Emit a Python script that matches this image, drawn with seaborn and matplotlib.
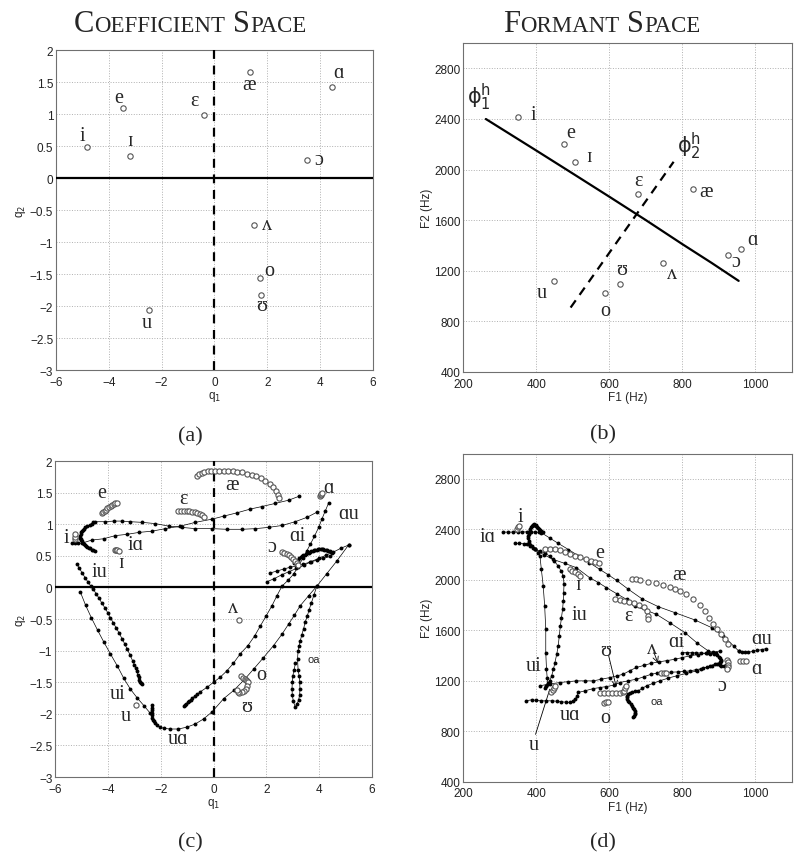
import matplotlib
matplotlib.use("Agg")
import matplotlib.pyplot as plt
import matplotlib.ticker as mticker
import seaborn as sns

# --- vowel data -------------------------------------------------------------
VOWELS = ['i', 'e', 'ɪ', 'ɛ', 'æ', 'ɑ', 'ɔ', 'ʌ', 'o', 'ʊ', 'u']

# (a) coefficient space, monophthongs
A_Q1 = [-4.82, -3.48, -3.20, -0.40, 1.36, 4.46, 3.50, 1.49, 1.74, 1.78, -2.47]
A_Q2 = [0.48, 1.10, 0.34, 0.99, 1.65, 1.43, 0.28, -0.74, -1.57, -1.83, -2.07]
A_LAB_Q1 = [-4.99, -3.64, -3.20, -0.74, 1.31, 4.70, 3.95, 1.99, 2.09, 1.80, -2.57]
A_LAB_Q2 = [0.67, 1.26, 0.59, 1.21, 1.46, 1.65, 0.29, -0.73, -1.45, -1.99, -2.26]

# (b) formant space, monophthongs
B_F1 = [350, 477, 507, 679, 829, 960, 924, 748, 589, 630, 449]
B_F2 = [2412, 2201, 2056, 1806, 1848, 1368, 1326, 1265, 1022, 1099, 1117]
B_LAB_F1 = [391, 494, 544, 681, 865, 991, 946, 772, 590, 635, 414]
B_LAB_F2 = [2431, 2293, 2101, 1916, 1824, 1447, 1270, 1175, 888, 1212, 1028]
PHI1_F1 = [262, 400, 500, 600, 700, 800, 880, 954]
PHI1_F2 = [2399, 2150, 1968, 1785, 1600, 1410, 1262, 1120]
PHI2_F1 = [494, 776]
PHI2_F2 = [909, 2061]

# (c) coefficient space, diphthong trajectories (dots)
C_IA_Q1 = [-5.37, -5.25, -5.12, -4.99, -4.61, -4.17, -3.72, -3.28, -2.84, -2.34, -1.83,
           -1.26, -0.69, -0.06, 0.40, 0.88, 1.39, 1.83, 2.34, 2.84, 3.22]
C_IA_Q2 = [0.70, 0.70, 0.70, 0.70, 0.75, 0.77, 0.82, 0.84, 0.87, 0.89, 0.93,
           0.97, 1.03, 1.08, 1.13, 1.18, 1.24, 1.28, 1.33, 1.38, 1.44]
C_AI_Q1 = [3.91, 3.54, 3.09, 2.59, 2.08, 1.58, 1.07, 0.51, -0.06, -0.69, -1.20, -1.70,
           -2.21, -2.71, -3.16, -3.47, -3.79, -4.10, -4.48, -4.55, -4.62, -4.70, -4.80,
           -4.86, -4.92, -4.96, -4.99, -5.02, -5.04, -5.05, -5.05, -5.04, -5.02, -4.99,
           -4.96, -4.92, -4.88, -4.83, -4.78, -4.73, -4.68, -4.62, -4.55, -4.48]
C_AI_Q2 = [1.19, 1.11, 1.04, 0.98, 0.95, 0.93, 0.92, 0.92, 0.93, 0.93, 0.95, 0.97,
           1.01, 1.03, 1.04, 1.05, 1.05, 1.04, 1.04, 1.03, 1.01, 0.99, 0.97,
           0.95, 0.93, 0.91, 0.89, 0.87, 0.84, 0.81, 0.79, 0.77, 0.75, 0.73,
           0.71, 0.69, 0.67, 0.65, 0.64, 0.63, 0.62, 0.60, 0.59, 0.58]
C_IU_Q1 = [-5.18, -5.08, -4.98, -4.86, -4.75, -4.65, -4.55, -4.45, -4.34, -4.23, -4.12,
           -4.01, -3.91, -3.80, -3.69, -3.58, -3.47, -3.37, -3.27, -3.16, -3.07, -3.00,
           -2.95, -2.91, -2.87, -2.84, -2.81, -2.78, -2.75, -2.72]
C_IU_Q2 = [0.37, 0.30, 0.23, 0.15, 0.08, 0.02, -0.03, -0.10, -0.17, -0.25, -0.32,
           -0.40, -0.48, -0.56, -0.64, -0.72, -0.81, -0.89, -0.98, -1.07, -1.16, -1.22,
           -1.28, -1.33, -1.38, -1.42, -1.46, -1.49, -1.51, -1.52]
C_UI_Q1 = [-5.05, -4.85, -4.63, -4.39, -4.15, -3.91, -3.65, -3.40, -3.15, -2.89, -2.64, -2.42]
C_UI_Q2 = [-0.07, -0.28, -0.48, -0.68, -0.87, -1.05, -1.24, -1.44, -1.61, -1.75, -1.87, -1.98]
C_AU_Q1 = [4.36, 4.23, 4.10, 3.98, 3.82, 3.66, 3.52, 3.38, 3.20, 3.03, 2.81, 2.59, 2.40,
           2.21, 1.99, 1.77, 1.55, 1.30, 1.01, 0.75, 0.50, 0.25, 0.00, -0.25, -0.50,
           -0.62, -0.72, -0.80, -0.87, -0.93, -0.98, -1.03, -1.07, -1.11]
C_AU_Q2 = [1.34, 1.21, 1.08, 0.95, 0.81, 0.68, 0.57, 0.46, 0.33, 0.21, 0.11, 0.02, -0.13,
           -0.29, -0.45, -0.61, -0.77, -0.92, -1.05, -1.20, -1.32, -1.42, -1.50, -1.58, -1.65,
           -1.69, -1.72, -1.75, -1.78, -1.80, -1.82, -1.84, -1.86, -1.88]
C_UA_Q1 = [-2.34, -2.34, -2.34, -2.34, -2.33, -2.32, -2.30, -2.27, -2.23, -2.15, -2.02,
           -1.89, -1.64, -1.33, -1.01, -0.69, -0.38, -0.06, 0.38, 0.76, 1.14, 1.52, 1.89,
           2.27, 2.59, 2.84, 3.06, 3.28, 3.60, 3.91, 4.29, 4.67, 5.11]
C_UA_Q2 = [-1.86, -1.90, -1.94, -1.98, -2.02, -2.06, -2.09, -2.12, -2.15, -2.18, -2.21,
           -2.23, -2.24, -2.24, -2.21, -2.16, -2.08, -1.97, -1.76, -1.63, -1.47, -1.29, -1.11,
           -0.92, -0.74, -0.58, -0.44, -0.29, -0.13, 0.02, 0.22, 0.42, 0.67]
C_OA_Q1 = [3.10, 3.05, 3.00, 2.98, 2.97, 2.98, 3.02, 3.09, 3.16, 3.22, 3.26, 3.27, 3.26,
           3.24, 3.20, 3.18, 3.20, 3.24, 3.28, 3.34, 3.41, 3.47, 3.55, 3.62, 3.70, 3.80, 3.91]
C_OA_Q2 = [-1.20, -1.30, -1.40, -1.50, -1.60, -1.70, -1.80, -1.89, -1.85, -1.78, -1.70, -1.60, -1.50,
           -1.40, -1.30, -1.13, -1.00, -0.92, -0.85, -0.75, -0.65, -0.55, -0.45, -0.35, -0.25, -0.12, 0.02]
C_PA_Q1 = [2.15, 2.40, 2.65, 2.90, 3.15, 3.40, 3.65, 3.90, 4.15, 4.42]
C_PA_Q2 = [0.23, 0.26, 0.29, 0.32, 0.34, 0.37, 0.40, 0.43, 0.46, 0.49]
C_PB_Q1 = [2.02, 2.30, 2.58, 2.86, 3.14, 3.42, 3.70, 3.98, 4.26, 4.54, 4.82, 5.11]
C_PB_Q2 = [0.09, 0.14, 0.20, 0.25, 0.30, 0.35, 0.41, 0.46, 0.51, 0.56, 0.62, 0.67]
C_ARC_Q1 = [3.05, 3.10, 3.15, 3.20, 3.25, 3.30, 3.35, 3.40, 3.45, 3.50, 3.55, 3.60, 3.65,
            3.70, 3.75, 3.80, 3.85, 3.90, 3.95, 4.00, 4.05, 4.10, 4.15, 4.20, 4.25, 4.30,
            4.35, 4.40, 4.45, 4.50]
C_ARC_Q2 = [0.38, 0.40, 0.42, 0.44, 0.46, 0.48, 0.49, 0.51, 0.52, 0.53, 0.54, 0.55, 0.56,
            0.57, 0.58, 0.59, 0.60, 0.60, 0.61, 0.61, 0.61, 0.61, 0.61, 0.60, 0.60, 0.59,
            0.58, 0.57, 0.56, 0.55]

# (c) monophthong trajectories (open circles)
C_MONO = {
    'æ': ([-0.63, -0.55, -0.45, -0.35, -0.22, -0.08, 0.06, 0.22, 0.38, 0.55, 0.72, 0.90,
           1.08, 1.26, 1.44, 1.62, 1.80, 1.96, 2.12, 2.25, 2.36, 2.44, 2.48],
          [1.76, 1.79, 1.81, 1.83, 1.84, 1.85, 1.85, 1.85, 1.85, 1.85, 1.84, 1.83,
           1.82, 1.80, 1.78, 1.76, 1.73, 1.69, 1.64, 1.59, 1.53, 1.47, 1.42]),
    'ɛ': ([-1.33, -1.22, -1.12, -1.02, -0.92, -0.82, -0.72, -0.62, -0.52, -0.43, -0.35],
          [1.21, 1.21, 1.21, 1.21, 1.21, 1.20, 1.19, 1.18, 1.16, 1.14, 1.12]),
    'e': ([-4.23, -4.18, -4.13, -4.08, -4.02, -3.96, -3.90, -3.84, -3.78, -3.72, -3.66],
          [1.17, 1.19, 1.21, 1.23, 1.25, 1.27, 1.29, 1.31, 1.32, 1.33, 1.34]),
    'i': ([-5.25, -5.24, -5.24], [0.76, 0.80, 0.84]),
    'ɪ': ([-3.75, -3.70, -3.65, -3.60], [0.59, 0.59, 0.59, 0.58]),
    'ɑ': ([4.02, 4.05, 4.08, 4.10], [1.44, 1.46, 1.48, 1.50]),
    'ɔ': ([2.59, 2.68, 2.77, 2.86, 2.94, 3.02, 3.09, 3.15, 3.19],
          [0.56, 0.55, 0.53, 0.51, 0.48, 0.45, 0.42, 0.39, 0.36]),
    'ʌ': ([0.98], [-0.52]),
    'o': ([1.05, 1.12, 1.18, 1.22, 1.26, 1.30], [-1.40, -1.43, -1.45, -1.47, -1.48, -1.50]),
    'ʊ': ([1.28, 1.22, 1.14, 1.06, 0.98, 0.92, 0.90], [-1.56, -1.61, -1.64, -1.66, -1.67, -1.66, -1.63]),
    'u': ([-2.93], [-1.86]),
}
C_LABELS = ['æ', 'ɑ', 'e', 'ɛ', 'ɑu', 'i', 'iɑ', 'ɑi', 'ɔ', 'ɪ', 'iu', 'ʌ',
            'o', 'ui', 'ʊ', 'u', 'uɑ']
C_LAB_Q1 = [0.69, 4.36, -4.23, -1.14, 5.11, -5.56, -2.97, 3.16, 2.21, -3.51, -4.32, 0.72,
            1.81, -3.64, 1.24, -3.31, -1.33]
C_LAB_Q2 = [1.63, 1.58, 1.51, 1.41, 1.17, 0.79, 0.68, 0.82, 0.65, 0.39, 0.25, -0.32,
            -1.37, -1.68, -1.89, -2.03, -2.39]

# (d) formant space, diphthong trajectories (dots)
D_TOP_F1 = [310, 323, 337, 350, 362, 374, 386, 397, 407, 414, 437, 460, 488, 515, 545, 574,
            597, 620, 652, 689, 734, 779, 834, 880, 912, 940, 954]
D_TOP_F2 = [2378, 2378, 2378, 2378, 2379, 2380, 2380, 2378, 2376, 2373, 2331, 2289, 2240,
            2191, 2137, 2082, 2040, 1995, 1925, 1850, 1787, 1740, 1682, 1621, 1555, 1476, 1436]
D_LOW_F1 = [341, 354, 366, 376, 384, 390, 396, 420, 446, 478, 510, 546, 570, 592, 620, 647,
            669, 700, 729, 765, 807, 839, 871, 891]
D_LOW_F2 = [2288, 2288, 2287, 2284, 2270, 2255, 2241, 2200, 2162, 2130, 2096, 2017, 1978,
            1938, 1890, 1845, 1792, 1760, 1726, 1661, 1581, 1502, 1436, 1420]
D_HOOK_F1 = [387, 384, 381, 379, 378, 378, 379, 380, 382, 384, 386, 388, 390, 392, 393, 395,
             398, 400, 403, 405, 408, 411, 414, 418]
D_HOOK_F2 = [2267, 2278, 2290, 2310, 2330, 2345, 2360, 2375, 2390, 2403, 2415, 2425, 2432,
             2437, 2440, 2438, 2432, 2425, 2417, 2408, 2400, 2393, 2386, 2380]
D_IU_F1 = [396, 410, 424, 437, 449, 460, 468, 474, 476, 475, 474, 472, 469, 466, 463, 460,
           456, 451, 447, 442, 437, 433, 428]
D_IU_F2 = [2241, 2228, 2210, 2188, 2150, 2109, 2070, 2030, 1965, 1898, 1832, 1766, 1700,
           1634, 1555, 1476, 1410, 1344, 1290, 1239, 1200, 1175, 1160]
D_UI_F1 = [396, 405, 410, 414, 419, 423, 426, 426, 428, 430, 431, 428, 424]
D_UI_F2 = [2241, 2215, 2188, 2082, 1951, 1792, 1608, 1423, 1291, 1220, 1186, 1160, 1140]
D_L1_F1 = [410, 437, 465, 488, 510, 533, 556, 578, 601, 620, 638, 656, 674, 695, 715, 737,
           758, 779, 800, 820, 843, 866, 885, 903]
D_L1_F2 = [1160, 1175, 1186, 1193, 1199, 1199, 1199, 1212, 1225, 1238, 1252, 1280, 1305,
           1322, 1339, 1350, 1360, 1370, 1384, 1397, 1408, 1418, 1427, 1436]
D_L2_F1 = [373, 387, 400, 414, 428, 442, 456, 469, 482, 492, 500, 506, 512, 515, 533, 556,
           574, 592, 612, 629, 652, 674, 695, 715, 731, 747, 768, 788, 804, 820, 836, 852,
           866, 880, 895]
D_L2_F2 = [1041, 1049, 1045, 1041, 1041, 1041, 1038, 1033, 1030, 1028, 1040, 1054, 1080,
           1107, 1120, 1138, 1146, 1154, 1165, 1186, 1200, 1212, 1232, 1252, 1260, 1265,
           1268, 1270, 1274, 1278, 1287, 1296, 1306, 1318, 1330]
D_OA_F1 = [665, 668, 670, 670, 669, 667, 665, 662, 659, 655, 651, 648, 647, 649, 652, 656,
           661, 670, 679, 690, 702, 720, 738, 760, 784, 811, 839, 857, 875, 889, 903]
D_OA_F2 = [909, 922, 935, 948, 962, 975, 988, 1001, 1015, 1028, 1041, 1055, 1068, 1080,
           1092, 1102, 1110, 1115, 1120, 1140, 1160, 1180, 1199, 1220, 1239, 1258, 1278,
           1298, 1318, 1331, 1344]
D_AI_F1 = [799, 812, 825, 838, 851, 864, 876, 886, 894, 900, 904, 906, 905, 902, 900, 902,
           907, 913, 919, 925]
D_AI_F2 = [1423, 1423, 1422, 1421, 1420, 1418, 1415, 1410, 1402, 1392, 1380, 1368, 1356,
           1345, 1335, 1326, 1320, 1318, 1322, 1330]
D_AU_F1 = [954, 962, 970, 980, 992, 1004, 1017, 1030]
D_AU_F2 = [1436, 1428, 1425, 1426, 1432, 1440, 1447, 1455]

# (d) monophthong trajectories (open circles)
D_MONO = {
    'i': ([348, 350, 352], [2405, 2418, 2430]),
    'e': ([423, 437, 451, 465, 479, 493, 507, 521, 535, 549, 562, 572],
          [2246, 2246, 2243, 2235, 2222, 2208, 2192, 2178, 2165, 2152, 2142, 2135]),
    'ɪ': ([492, 499, 506, 513, 519], [2082, 2072, 2060, 2046, 2030]),
    'ɛ': ([615, 628, 641, 654, 667, 680, 694, 702, 706, 706],
          [1850, 1842, 1833, 1825, 1815, 1803, 1787, 1753, 1713, 1687]),
    'æ': ([661, 672, 684, 706, 729, 747, 765, 779, 793, 811, 830, 848, 862, 874, 884, 895,
           905, 916, 925],
          [2009, 2003, 1996, 1982, 1972, 1958, 1943, 1924, 1911, 1885, 1845, 1798, 1753,
           1700, 1647, 1608, 1568, 1529, 1489]),
    'ɑ': ([957, 966, 975], [1357, 1357, 1357]),
    'ɔ': ([922, 925, 926, 925, 923], [1362, 1345, 1328, 1310, 1293]),
    'ʊ': ([574, 585, 596, 607, 618, 629, 637, 641, 644, 646],
          [1100, 1100, 1100, 1100, 1100, 1101, 1108, 1122, 1140, 1160]),
    'o': ([585, 590, 595], [1022, 1028, 1034]),
    'u': ([440, 445, 449, 452], [1110, 1125, 1140, 1155]),
    'ʌ': ([742, 749, 756], [1265, 1265, 1265]),
}
D_LABELS = ['i', 'iɑ', 'e', 'æ', 'ɪ', 'ɛ', 'iu', 'ɑu', 'ɑi', 'ʌ', 'ʊ', 'ui', 'ɑ', 'ɔ',
            'uɑ', 'o', 'u']
D_LAB_F1 = [357, 268, 574, 791, 515, 652, 519, 1016, 784, 717, 590, 392, 1003, 907,
            492, 590, 392]
D_LAB_F2 = [2499, 2341, 2214, 2043, 1964, 1719, 1727, 1534, 1508, 1455, 1436, 1318, 1297,
            1159, 935, 909, 698]

# --- style --------------------------------------------------------------------
sns.set_style("white")
plt.rcParams['font.family'] = ['Liberation Sans', 'DejaVu Sans']
SERIF = ['Liberation Serif', 'DejaVu Serif']
IPA_SIZE = 14.5
EDGE = '#555555'

fig = plt.figure(figsize=(8, 8.62), dpi=100)
ax_a = fig.add_axes([0.070, 0.5696, 0.396, 0.3712])
ax_b = fig.add_axes([0.579, 0.5673, 0.411, 0.3817])
ax_c = fig.add_axes([0.069, 0.0974, 0.396, 0.3666])
ax_d = fig.add_axes([0.579, 0.0920, 0.411, 0.3806])

fmt = mticker.FuncFormatter(lambda v, _: f"{v:g}".replace('-', '\u2212'))


def style_axes(ax, xlim, ylim, xticks, yticks, xlabel, ylabel):
    ax.set_xlim(xlim)
    ax.set_ylim(ylim)
    ax.set_xticks(xticks)
    ax.set_yticks(yticks)
    ax.xaxis.set_major_formatter(fmt)
    ax.yaxis.set_major_formatter(fmt)
    ax.grid(True, linestyle=':', color='#b0b0b0', lw=0.7)
    ax.tick_params(direction='in', length=3, width=0.6, labelsize=8.5, colors='#222222', pad=2)
    ax.tick_params(axis='x', pad=4)
    for s in ax.spines.values():
        s.set_color('#707070')
        s.set_linewidth(0.8)
    ax.set_xlabel(xlabel, fontsize=8.5, labelpad=1)
    ax.set_ylabel(ylabel, fontsize=8.5, labelpad=1)


def label(ax, xs, ys, texts, size=IPA_SIZE):
    for x, y, s in zip(xs, ys, texts):
        ax.text(x, y, s, ha='center', va='center', fontsize=size, family=SERIF, zorder=6)


def circles(ax, xs, ys, s=14):
    sns.scatterplot(x=xs, y=ys, ax=ax, s=s, color='white', edgecolor=EDGE,
                    linewidth=0.8, zorder=5, legend=False)


def track(ax, xs, ys):
    sns.lineplot(x=xs, y=ys, ax=ax, sort=False, estimator=None, color='black', lw=0.5,
                 marker='o', markersize=2.8, markeredgewidth=0, zorder=4, legend=False)


q_xticks = [-6, -4, -2, 0, 2, 4, 6]
q_yticks = [-3, -2.5, -2, -1.5, -1, -0.5, 0, 0.5, 1, 1.5, 2]
f_xticks = [200, 400, 600, 800, 1000]
f_yticks = [400, 800, 1200, 1600, 2000, 2400, 2800]

# --- (a) ----------------------------------------------------------------------
ax_a.axhline(0, color='black', lw=1.6, zorder=3)
ax_a.axvline(0, color='black', lw=1.6, ls=(0, (4, 3)), zorder=3)
circles(ax_a, A_Q1, A_Q2, s=15)
label(ax_a, A_LAB_Q1, A_LAB_Q2, VOWELS)
style_axes(ax_a, (-6, 6), (-3, 2), q_xticks, q_yticks, r'q$_1$', r'q$_2$')

# --- (b) ----------------------------------------------------------------------
sns.lineplot(x=PHI1_F1, y=PHI1_F2, ax=ax_b, sort=False, estimator=None, color='black', lw=1.6)
sns.lineplot(x=PHI2_F1, y=PHI2_F2, ax=ax_b, sort=False, estimator=None, color='black', lw=1.6,
             dashes=False, linestyle=(0, (4, 3)))
circles(ax_b, B_F1, B_F2, s=15)
label(ax_b, B_LAB_F1, B_LAB_F2, VOWELS)
ax_b.text(243, 2576, r'$\mathrm{ϕ}_{\mathrm{1}}^{\mathrm{h}}$', fontsize=15, ha='center', va='center')
ax_b.text(818, 2193, r'$\mathrm{ϕ}_{\mathrm{2}}^{\mathrm{h}}$', fontsize=15, ha='center', va='center')
style_axes(ax_b, (200, 1100), (400, 3000), f_xticks, f_yticks, 'F1 (Hz)', 'F2 (Hz)')

# --- (c) ----------------------------------------------------------------------
ax_c.axhline(0, color='black', lw=1.6, zorder=3)
ax_c.axvline(0, color='black', lw=1.6, ls=(0, (4, 3)), zorder=3)
for xs, ys in [(C_IA_Q1, C_IA_Q2), (C_AI_Q1, C_AI_Q2), (C_IU_Q1, C_IU_Q2),
               (C_UI_Q1, C_UI_Q2), (C_AU_Q1, C_AU_Q2), (C_UA_Q1, C_UA_Q2),
               (C_OA_Q1, C_OA_Q2), (C_PA_Q1, C_PA_Q2), (C_PB_Q1, C_PB_Q2),
               (C_ARC_Q1, C_ARC_Q2)]:
    track(ax_c, xs, ys)
for v, (xs, ys) in C_MONO.items():
    circles(ax_c, xs, ys)
label(ax_c, C_LAB_Q1, C_LAB_Q2, C_LABELS)
ax_c.text(3.79, -1.13, 'oa', fontsize=8, ha='center', va='center')
style_axes(ax_c, (-6, 6), (-3, 2), q_xticks, q_yticks, r'q$_1$', r'q$_2$')

# --- (d) ----------------------------------------------------------------------
for xs, ys in [(D_TOP_F1, D_TOP_F2), (D_LOW_F1, D_LOW_F2), (D_HOOK_F1, D_HOOK_F2),
               (D_IU_F1, D_IU_F2), (D_UI_F1, D_UI_F2), (D_L1_F1, D_L1_F2),
               (D_L2_F1, D_L2_F2), (D_OA_F1, D_OA_F2), (D_AI_F1, D_AI_F2),
               (D_AU_F1, D_AU_F2)]:
    track(ax_d, xs, ys)
for v, (xs, ys) in D_MONO.items():
    circles(ax_d, xs, ys)
label(ax_d, D_LAB_F1, D_LAB_F2, D_LABELS)
ax_d.text(729, 1041, 'oa', fontsize=8, ha='center', va='center')
arrow = dict(arrowstyle='->', lw=0.6, color='black', shrinkA=0, shrinkB=0)
ax_d.annotate('', xy=(619, 1150), xytext=(598, 1400), arrowprops=arrow)
ax_d.annotate('', xy=(733, 1340), xytext=(722, 1425), arrowprops=arrow)
ax_d.annotate('', xy=(437, 1133), xytext=(398, 775),
              arrowprops=dict(arrowstyle='-', lw=0.6, color='black', shrinkA=0, shrinkB=0))
style_axes(ax_d, (200, 1100), (400, 3000), f_xticks, f_yticks, 'F1 (Hz)', 'F2 (Hz)')

# --- titles and panel letters -------------------------------------------------


def small_caps_title(xc, yb, words, big=22, small=16.5):
    r = fig.canvas.get_renderer()
    W = fig.bbox.width
    items = []
    for w in words:
        items.append(fig.text(0, yb, w[0], fontsize=big, family=SERIF, va='baseline'))
        items.append(fig.text(0, yb, w[1:].upper(), fontsize=small, family=SERIF, va='baseline'))
    widths = [t.get_window_extent(r).width for t in items]
    gap = 0.25 * big * fig.dpi / 72
    total = sum(widths) + gap * (len(words) - 1)
    x = xc * W - total / 2
    for i, (t, w) in enumerate(zip(items, widths)):
        t.set_x(x / W)
        x += w
        if i % 2 == 1:
            x += gap


small_caps_title(0.2375, 0.963, ['Coefficient', 'Space'])
small_caps_title(0.7525, 0.963, ['Formant', 'Space'])

for x, y, s in [(0.2375, 0.493, '(a)'), (0.754, 0.495, '(b)'),
                (0.2375, 0.022, '(c)'), (0.754, 0.022, '(d)')]:
    fig.text(x, y, s, fontsize=16, family=SERIF, ha='center', va='center')

fig.savefig('out.png', dpi=100)
